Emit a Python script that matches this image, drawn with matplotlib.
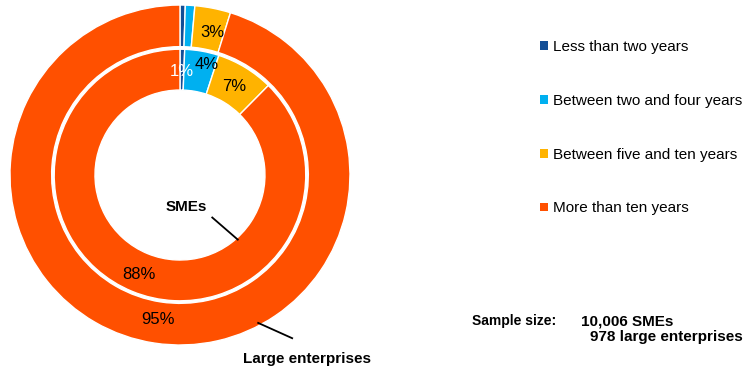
import matplotlib
matplotlib.use("Agg")
import matplotlib.pyplot as plt
from matplotlib.patches import Patch
import numpy as np

plt.rcParams['font.family'] = ['Liberation Sans', 'DejaVu Sans']

# categorias (antiguedad de la empresa)
categorias = ['Less than two years', 'Between two and four years',
              'Between five and ten years', 'More than ten years']
colores = ['#124E96', '#00B0F0', '#FFB300', '#FF5000']

# anillo exterior: grandes empresas, anillo interior: pymes
grandes = [0.5, 0.9, 3.4, 95.2]
pymes = [0.6, 4.4, 7.4, 87.6]
mostrar_grandes = [False, False, True, True]
mostrar_pymes = [True, True, True, True]

fig = plt.figure(figsize=(7.51, 3.69), dpi=100)
ax = fig.add_axes([0.0133, 0.065, 0.4527, 0.9214])

w_out, t_out = ax.pie(grandes, radius=1.0, colors=colores, startangle=90,
                      counterclock=False,
                      wedgeprops=dict(width=0.245, edgecolor='white', linewidth=1))
w_in, t_in = ax.pie(pymes, radius=0.74, colors=colores, startangle=90,
                    counterclock=False,
                    wedgeprops=dict(width=0.24, edgecolor='white', linewidth=1))


def etiquetar(wedges, valores, mostrar, radios, giros, colores_txt):
    # etiqueta en el angulo medio de cada porcion (+ giro para no solapar)
    for w, v, m, r, g, c in zip(wedges, valores, mostrar, radios, giros, colores_txt):
        if not m:
            continue
        ang = np.deg2rad((w.theta1 + w.theta2) / 2 + g)
        ax.text(r * np.cos(ang), r * np.sin(ang), '%d%%' % round(v),
                ha='center', va='center', fontsize=12, color=c)

etiquetar(w_out, grandes, mostrar_grandes, [0.86] * 4, [0, 0, -1.5, 0],
          ['k'] * 4)
etiquetar(w_in, pymes, mostrar_pymes, [0.61, 0.67, 0.61, 0.635],
          [0, -3.6, 0, 0], ['white', 'k', 'k', 'k'])

ax.set_xlim(-1, 1)
ax.set_ylim(-1, 1)
ax.set_aspect('equal')
ax.axis('off')

# rotulos de los anillos
ax.text(0.04, -0.19, 'SMEs', ha='center', va='center', fontsize=11,
        fontweight='bold')
ax.plot([0.19, 0.34], [-0.25, -0.38], color='k', lw=1.3, clip_on=False)
ax.text(0.75, -1.08, 'Large enterprises', ha='center', va='center',
        fontsize=11, fontweight='bold', clip_on=False)
ax.plot([0.46, 0.66], [-0.87, -0.96], color='k', lw=1.3, clip_on=False)

handles = [Patch(facecolor=c, edgecolor='none') for c in colores]
fig.legend(handles, categorias, loc='upper left', bbox_to_anchor=(0.719, 0.891),
           frameon=False, fontsize=11, handlelength=0.5, handleheight=0.5,
           handletextpad=0.35, labelspacing=2.6, borderpad=0, borderaxespad=0)

fig.text(0.628, 0.13, 'Sample size:', fontsize=10, fontweight='bold',
         ha='left', va='center')
fig.text(0.774, 0.13, '10,006 SMEs', fontsize=11, fontweight='bold',
         ha='left', va='center')
fig.text(0.989, 0.087, '978 large enterprises', fontsize=11, fontweight='bold',
         ha='right', va='center')

fig.savefig('out.png', dpi=100)
